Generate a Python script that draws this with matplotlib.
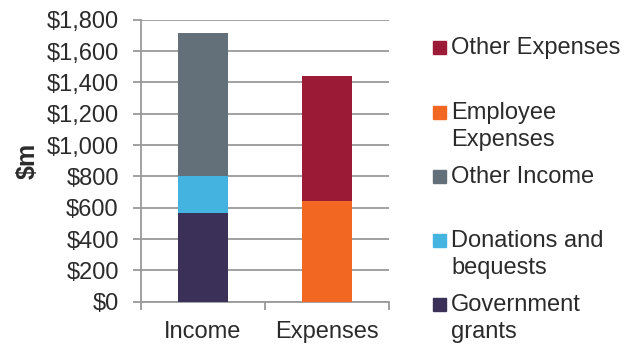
import numpy as np
import matplotlib
matplotlib.use("Agg")
import matplotlib.pyplot as plt
from matplotlib.patches import Rectangle

plt.rcParams['font.family'] = ['Liberation Sans', 'DejaVu Sans']

categories = ['Income', 'Expenses']
gov_grants = [568, 0]
donations = [236, 0]
other_income = [911, 0]
employee_exp = [0, 643]
other_exp = [0, 796]

series = [
    ('Government\ngrants', gov_grants, '#3b3058'),
    ('Donations and\nbequests', donations, '#45b3e0'),
    ('Other Income', other_income, '#637079'),
    ('Employee\nExpenses', employee_exp, '#f26722'),
    ('Other Expenses', other_exp, '#9b1b36'),
]
yticks = np.arange(0, 1801, 200)

txt = '#2b2b2b'
grid = '#9a9a9a'
fs = 17

fig = plt.figure(figsize=(6.3, 3.45), dpi=100)
ax = fig.add_axes([0.2238, 0.1255, 0.3937, 0.8175])

x = np.arange(len(categories))
bottom = np.zeros(len(categories))
for name, vals, col in series:
    vals = np.array(vals, dtype=float)
    ax.bar(x, vals, width=0.4, bottom=bottom, color=col, zorder=3)
    bottom += vals

ax.set_xlim(-0.5, 1.5)
ax.set_ylim(0, 1800)
ax.set_yticks(yticks)
ax.set_yticklabels(['${:,}'.format(v) for v in yticks])
ax.yaxis.grid(True, color=grid, linewidth=1.3, zorder=0)
ax.set_xticks(x)
ax.set_xticklabels(categories)
ax.set_xticks([-0.5, 0.5, 1.5], minor=True)
ax.tick_params(axis='x', which='major', length=0, pad=14, labelsize=fs, labelcolor=txt)
ax.tick_params(axis='x', which='minor', length=5.5, width=1.3, color=grid)
ax.tick_params(axis='y', length=6, width=1.3, color=grid, labelsize=fs, labelcolor=txt, pad=10)
for s in ['top', 'right']:
    ax.spines[s].set_visible(False)
for s in ['left', 'bottom']:
    ax.spines[s].set_color(grid)
    ax.spines[s].set_linewidth(1.3)
ax.set_ylabel('$m', fontsize=18, color=txt, fontweight='bold', labelpad=5)

# legend, top entry is the last stacked series
legend_y = [47, 112, 176, 240, 304]
for (name, vals, col), yp in zip(series[::-1], legend_y):
    fy = 1 - yp / 345
    fig.add_artist(Rectangle((433 / 630, fy - 6.5 / 345), 13 / 630, 13 / 345,
                             transform=fig.transFigure, color=col))
    fig.text(451 / 630, fy + 10 / 345, name, fontsize=fs, color=txt, va='top',
             ha='left', linespacing=1.32, transform=fig.transFigure)

fig.savefig('out.png', dpi=100)
